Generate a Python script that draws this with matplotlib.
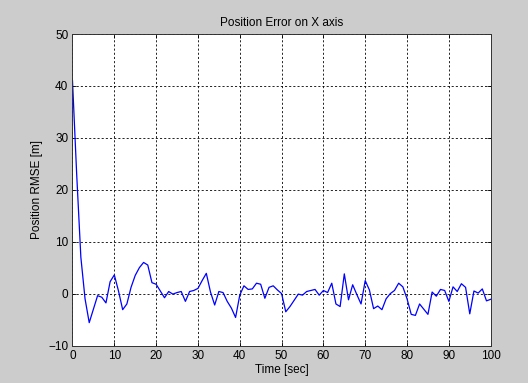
import numpy as np
import matplotlib
matplotlib.use("Agg")
import matplotlib.pyplot as plt

# time axis (seconds) and RMSE values
time_sec = np.arange(0, 101)
rmse = [41.0, 23.0, 7.0, -1.0, -5.6, -3.0, -0.4, -0.7, -1.8, 2.3,
        3.6, 0.5, -3.1, -2.0, 1.2, 3.5, 5.0, 6.0, 5.5, 2.1,
        1.8, 0.5, -0.8, 0.4, -0.1, 0.2, 0.4, -1.5, 0.4, 0.6,
        1.0, 2.5, 3.9, 0.3, -2.2, 0.4, 0.2, -1.5, -2.8, -4.6,
        -0.3, 1.5, 0.8, 0.9, 2.0, 1.8, -0.9, 1.2, 1.5, 0.7,
        0.0, -3.5, -2.5, -1.3, -0.1, -0.3, 0.4, 0.6, 0.8, -0.3,
        0.6, 0.2, 2.0, -2.0, -2.5, 3.8, -1.2, 1.7, -0.2, -2.0,
        2.5, 0.7, -2.9, -2.4, -3.1, -1.0, 0.0, 0.6, 2.0, 1.3,
        -1.0, -4.0, -4.2, -2.0, -3.0, -4.0, 0.3, -0.5, 0.8, 0.6,
        -1.5, 1.3, 0.4, 1.9, 1.2, -3.9, 0.5, 0.1, 0.9, -1.4,
        -1.1]

xticks = np.arange(0, 101, 10)
yticks = np.arange(-10, 51, 10)

plt.rcParams['font.family'] = ['Liberation Sans', 'DejaVu Sans']

fig = plt.figure(figsize=(5.28, 3.83), dpi=100, facecolor='#cccccc')
ax = fig.add_axes([0.1373, 0.0979, 0.792, 0.8133])
ax.set_facecolor('white')

ax.plot(time_sec, rmse, color='#0000ff', linewidth=0.9)

ax.set_xlim(0, 100)
ax.set_ylim(-10, 50)
ax.set_xticks(xticks)
ax.set_yticks(yticks)
ax.grid(True, color='black', linestyle=(0, (2.5, 2.5)), linewidth=0.6)
ax.tick_params(direction='in', length=3, width=0.6, labelsize=8.5,
               top=True, right=True, colors='black', pad=3)
for s in ax.spines.values():
    s.set_linewidth(0.7)
    s.set_color('#333333')

ax.set_title('Position Error on X axis', fontsize=8.5, pad=6)
ax.set_xlabel('Time [sec]', fontsize=8.5, labelpad=2)
ax.set_ylabel('Position RMSE [m]', fontsize=8.5, labelpad=4)

fig.savefig('out.png', dpi=100, facecolor=fig.get_facecolor())
